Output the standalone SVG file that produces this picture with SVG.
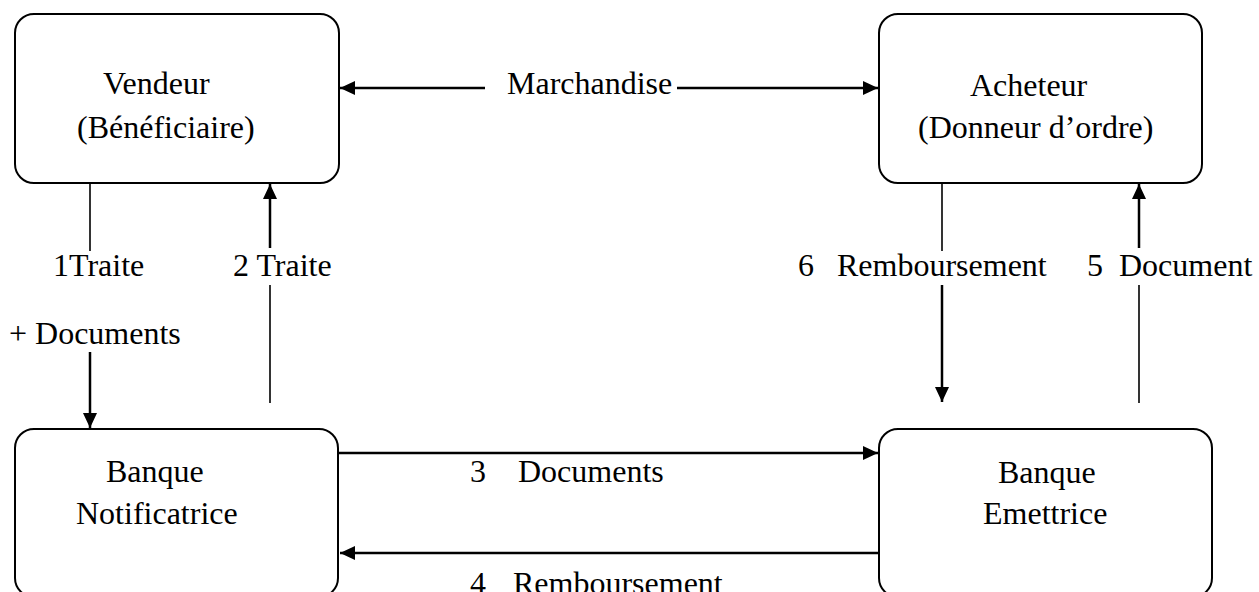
<svg xmlns="http://www.w3.org/2000/svg" width="1259" height="592" viewBox="0 0 1259 592">
<style>
.box{fill:#fff;stroke:#000;stroke-width:2}
.t{font-family:"Liberation Serif","Times New Roman",serif;font-size:32px;fill:#000}
.a{stroke:#000;stroke-width:2.5;fill:none}
.p{stroke:#000;stroke-width:1.6;fill:none}
</style>
<defs>
<marker id="ah" markerUnits="userSpaceOnUse" markerWidth="16" markerHeight="14" refX="15" refY="7" orient="auto">
<path d="M0,0 L15,7 L0,14 Z" fill="#000"/>
</marker>
</defs>
<rect width="1259" height="592" fill="#fff"/>
<g id="vendeur">
<rect class="box" x="15" y="14" width="324" height="169" rx="19"/>
<text class="t" x="103" y="94">Vendeur</text>
<text class="t" x="77" y="138">(Bénéficiaire)</text>
</g>
<g id="acheteur">
<rect class="box" x="879" y="14" width="323" height="169" rx="19"/>
<text class="t" x="970" y="96">Acheteur</text>
<text class="t" x="918" y="138">(Donneur d’ordre)</text>
</g>
<g id="banque-notificatrice">
<rect class="box" x="15" y="429" width="323" height="168" rx="19"/>
<text class="t" x="106" y="482">Banque</text>
<text class="t" x="76" y="524">Notificatrice</text>
</g>
<g id="banque-emettrice">
<rect class="box" x="879" y="429" width="333" height="168" rx="19"/>
<text class="t" x="998" y="483">Banque</text>
<text class="t" x="983" y="524">Emettrice</text>
</g>
<g id="connectors">
<line class="a" x1="485" y1="88" x2="340" y2="88" marker-end="url(#ah)"/>
<line class="a" x1="677" y1="88" x2="878" y2="88" marker-end="url(#ah)"/>
<text class="t" x="507" y="94">Marchandise</text>
<line class="p" x1="90" y1="183" x2="90" y2="251"/>
<text class="t" x="53" y="276">1Traite</text>
<text class="t" x="9" y="344">+ Documents</text>
<line class="a" x1="90" y1="352" x2="90" y2="428" marker-end="url(#ah)"/>
<line class="p" x1="270" y1="285" x2="270" y2="403"/>
<line class="a" x1="270" y1="248" x2="270" y2="184" marker-end="url(#ah)"/>
<text class="t" x="233" y="276">2 Traite</text>
<line class="p" x1="942" y1="183" x2="942" y2="251"/>
<line class="a" x1="942" y1="285" x2="942" y2="402" marker-end="url(#ah)"/>
<text class="t" x="798" y="276">6</text>
<text class="t" x="837" y="276">Remboursement</text>
<line class="p" x1="1139" y1="285" x2="1139" y2="403"/>
<line class="a" x1="1139" y1="248" x2="1139" y2="184" marker-end="url(#ah)"/>
<text class="t" x="1087" y="276">5</text>
<text class="t" x="1119" y="276">Document</text>
<line class="a" x1="339" y1="453" x2="878" y2="453" marker-end="url(#ah)"/>
<text class="t" x="470" y="482">3</text>
<text class="t" x="518" y="482">Documents</text>
<line class="a" x1="878" y1="553" x2="340" y2="553" marker-end="url(#ah)"/>
<text class="t" x="470" y="594">4</text>
<text class="t" x="513" y="594">Remboursement</text>
</g>
</svg>
